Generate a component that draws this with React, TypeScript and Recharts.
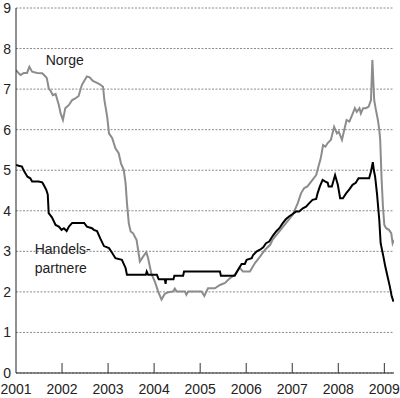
import React from "react";
import { LineChart, Line, XAxis, YAxis, CartesianGrid, ReferenceDot } from "recharts";

// Norge (gray)
const norgeT = [
  2001.0, 2001.06, 2001.10, 2001.17, 2001.24, 2001.29, 2001.35, 2001.46, 2001.57, 2001.64,
  2001.67, 2001.71, 2001.76, 2001.80, 2001.86, 2001.93, 2001.97, 2002.02, 2002.07, 2002.15,
  2002.22, 2002.29, 2002.36, 2002.43, 2002.49, 2002.54, 2002.60, 2002.67, 2002.75, 2002.82,
  2002.89, 2002.92, 2002.98, 2003.02, 2003.09, 2003.16, 2003.23, 2003.28, 2003.34, 2003.38,
  2003.41, 2003.45, 2003.49, 2003.54, 2003.62, 2003.69, 2003.76, 2003.83, 2003.87, 2003.94,
  2004.02, 2004.09, 2004.16, 2004.23, 2004.30, 2004.41, 2004.45, 2004.49, 2004.67, 2004.70,
  2004.74, 2005.03, 2005.09, 2005.17, 2005.32, 2005.43, 2005.54, 2005.65, 2005.75, 2005.86,
  2005.93, 2006.08, 2006.19, 2006.30, 2006.41, 2006.52, 2006.57, 2006.72, 2006.86, 2007.01,
  2007.12, 2007.19, 2007.26, 2007.33, 2007.44, 2007.52, 2007.55, 2007.62, 2007.67, 2007.72,
  2007.77, 2007.84, 2007.91, 2007.97, 2008.01, 2008.08, 2008.13, 2008.18, 2008.24, 2008.30,
  2008.36, 2008.40, 2008.46, 2008.49, 2008.54, 2008.60, 2008.66, 2008.71, 2008.74, 2008.78,
  2008.81, 2008.86, 2008.89, 2008.91, 2008.94, 2008.97, 2009.00, 2009.04, 2009.10, 2009.15,
  2009.18, 2009.21,
];
const norgeV = [
  7.47, 7.39, 7.35, 7.40, 7.40, 7.55, 7.43, 7.40, 7.39, 7.31,
  7.27, 7.02, 6.94, 6.85, 6.88, 6.61, 6.40, 6.24, 6.53, 6.61,
  6.73, 6.77, 6.83, 7.10, 7.22, 7.31, 7.29, 7.20, 7.16, 7.12,
  7.06, 6.73, 6.32, 5.91, 5.79, 5.54, 5.42, 5.17, 5.01, 4.68,
  4.19, 3.69, 3.49, 3.45, 3.28, 2.75, 2.87, 2.98, 2.83, 2.45,
  2.24, 2.00, 1.81, 1.95, 1.99, 2.01, 2.08, 2.01, 2.01, 1.93,
  2.01, 2.01, 1.90, 2.09, 2.09, 2.17, 2.22, 2.34, 2.42, 2.59,
  2.50, 2.50, 2.71, 2.87, 3.04, 3.16, 3.28, 3.49, 3.69, 3.90,
  4.19, 4.43, 4.56, 4.60, 4.76, 4.88, 5.01, 5.30, 5.62, 5.58,
  5.67, 5.75, 6.07, 5.91, 5.95, 5.75, 6.00, 6.24, 6.20, 6.36,
  6.53, 6.44, 6.53, 6.40, 6.53, 6.53, 6.57, 6.73, 7.72, 6.73,
  6.53, 6.24, 6.00, 5.75, 4.80, 4.10, 3.65, 3.57, 3.53, 3.45,
  3.20, 3.28,
];

// Handelspartnere (black)
const handelT = [
  2001.0, 2001.06, 2001.13, 2001.16, 2001.20, 2001.25, 2001.31, 2001.35, 2001.49, 2001.57,
  2001.60, 2001.66, 2001.69, 2001.71, 2001.78, 2001.86, 2001.93, 2001.99, 2002.04, 2002.10,
  2002.15, 2002.22, 2002.48, 2002.54, 2002.65, 2002.69, 2002.76, 2002.83, 2002.91, 2003.02,
  2003.09, 2003.16, 2003.30, 2003.38, 2003.41, 2003.82, 2003.84, 2003.87, 2004.06, 2004.10,
  2004.23, 2004.25, 2004.26, 2004.42, 2004.44, 2004.63, 2004.65, 2005.43, 2005.45, 2005.75,
  2005.82, 2005.90, 2005.97, 2006.01, 2006.12, 2006.15, 2006.23, 2006.30, 2006.37, 2006.43,
  2006.50, 2006.57, 2006.65, 2006.72, 2006.79, 2006.86, 2006.93, 2007.01, 2007.08, 2007.15,
  2007.23, 2007.30, 2007.37, 2007.44, 2007.52, 2007.55, 2007.60, 2007.66, 2007.72, 2007.77,
  2007.79, 2007.86, 2007.93, 2007.99, 2008.04, 2008.10, 2008.17, 2008.24, 2008.31, 2008.38,
  2008.44, 2008.67, 2008.71, 2008.75, 2008.77, 2008.80, 2008.84, 2008.89, 2008.92, 2008.98,
  2009.02, 2009.07, 2009.12, 2009.16, 2009.20,
];
const handelV = [
  5.13, 5.11, 5.09, 5.01, 4.93, 4.84, 4.80, 4.72, 4.72, 4.70,
  4.64, 4.51, 4.40, 3.94, 3.84, 3.65, 3.61, 3.53, 3.57, 3.50,
  3.61, 3.70, 3.70, 3.61, 3.57, 3.53, 3.50, 3.32, 3.13, 3.08,
  2.96, 2.83, 2.79, 2.59, 2.42, 2.42, 2.50, 2.42, 2.42, 2.31,
  2.31, 2.20, 2.31, 2.31, 2.40, 2.40, 2.50, 2.50, 2.40, 2.40,
  2.54, 2.69, 2.69, 2.79, 2.83, 2.91, 3.00, 3.04, 3.10, 3.20,
  3.24, 3.37, 3.49, 3.57, 3.69, 3.79, 3.86, 3.92, 3.98, 3.98,
  4.06, 4.10, 4.19, 4.27, 4.29, 4.43, 4.60, 4.76, 4.72, 4.69,
  4.60, 4.60, 4.88, 4.64, 4.31, 4.31, 4.43, 4.53, 4.64, 4.69,
  4.80, 4.80, 4.97, 5.20, 5.01, 4.84, 4.43, 3.78, 3.20, 2.87,
  2.63, 2.38, 2.13, 1.89, 1.76,
];

const xTicks = [2001, 2002, 2003, 2004, 2005, 2006, 2007, 2008, 2009];
const yTicks = [0, 1, 2, 3, 4, 5, 6, 7, 8, 9];
const norgeLabel = "Norge";
const handelLabel = ["Handels-", "partnere"];

const norgeData = norgeT.map((t, i) => ({ t, v: norgeV[i] }));
const handelData = handelT.map((t, i) => ({ t, v: handelV[i] }));

const FONT = "'Liberation Sans', Arial, sans-serif";

const XTick = (props: any) => {
  const { x, y, payload } = props;
  const axisY = y;
  return (
    <g>
      {payload.value !== 2001 && (
        <line x1={x} x2={x} y1={axisY} y2={axisY - 10} stroke="#333" strokeWidth={1} />
      )}
      <text x={x} y={axisY + 21} textAnchor="middle" fontFamily={FONT} fontSize={14} fill="#222">
        {payload.value}
      </text>
    </g>
  );
};

const YTick = (props: any) => {
  const { y, payload } = props;
  return (
    <text x={11} y={y + 5} textAnchor="end" fontFamily={FONT} fontSize={14} fill="#222">
      {payload.value}
    </text>
  );
};

const NorgeLbl = (props: any) => {
  const vb = props.viewBox || {};
  return (
    <text x={vb.x} y={vb.y} fontFamily={FONT} fontSize={14} fill="#222">
      {norgeLabel}
    </text>
  );
};

const HandelLbl = (props: any) => {
  const vb = props.viewBox || {};
  return (
    <text x={vb.x} y={vb.y} fontFamily={FONT} fontSize={14} fill="#222">
      <tspan x={vb.x} dy={0}>{handelLabel[0]}</tspan>
      <tspan x={vb.x} dy={19}>{handelLabel[1]}</tspan>
    </text>
  );
};

export default function App() {
  return (
    <div style={{ position: "absolute", left: 0, top: 0 }}>
      <LineChart width={400} height={398} margin={{ top: 8, right: 6, bottom: 1, left: 0 }}>
        <CartesianGrid horizontal vertical={false} stroke="#8a8a8a" strokeDasharray="2 1.5" />
        <XAxis
          type="number"
          dataKey="t"
          domain={[2001, 2009.21]}
          ticks={xTicks}
          allowDataOverflow
          height={24}
          axisLine={{ stroke: "#222", strokeWidth: 1 }}
          tickLine={false}
          tickSize={0}
          tickMargin={0}
          tick={<XTick />}
          interval={0}
        />
        <YAxis
          type="number"
          domain={[0, 9]}
          ticks={yTicks}
          width={16}
          axisLine={{ stroke: "#222", strokeWidth: 1 }}
          tickLine={false}
          tickSize={0}
          tick={<YTick />}
          interval={0}
        />
        <Line
          data={norgeData}
          dataKey="v"
          type="linear"
          stroke="#8c8c8c"
          strokeWidth={2}
          dot={false}
          isAnimationActive={false}
        />
        <Line
          data={handelData}
          dataKey="v"
          type="linear"
          stroke="#000"
          strokeWidth={2}
          dot={false}
          isAnimationActive={false}
        />
        <ReferenceDot x={2001.667} y={7.56} r={1} fill="none" stroke="none" label={<NorgeLbl />} />
        <ReferenceDot x={2001.428} y={2.91} r={1} fill="none" stroke="none" label={<HandelLbl />} />
      </LineChart>
    </div>
  );
}
